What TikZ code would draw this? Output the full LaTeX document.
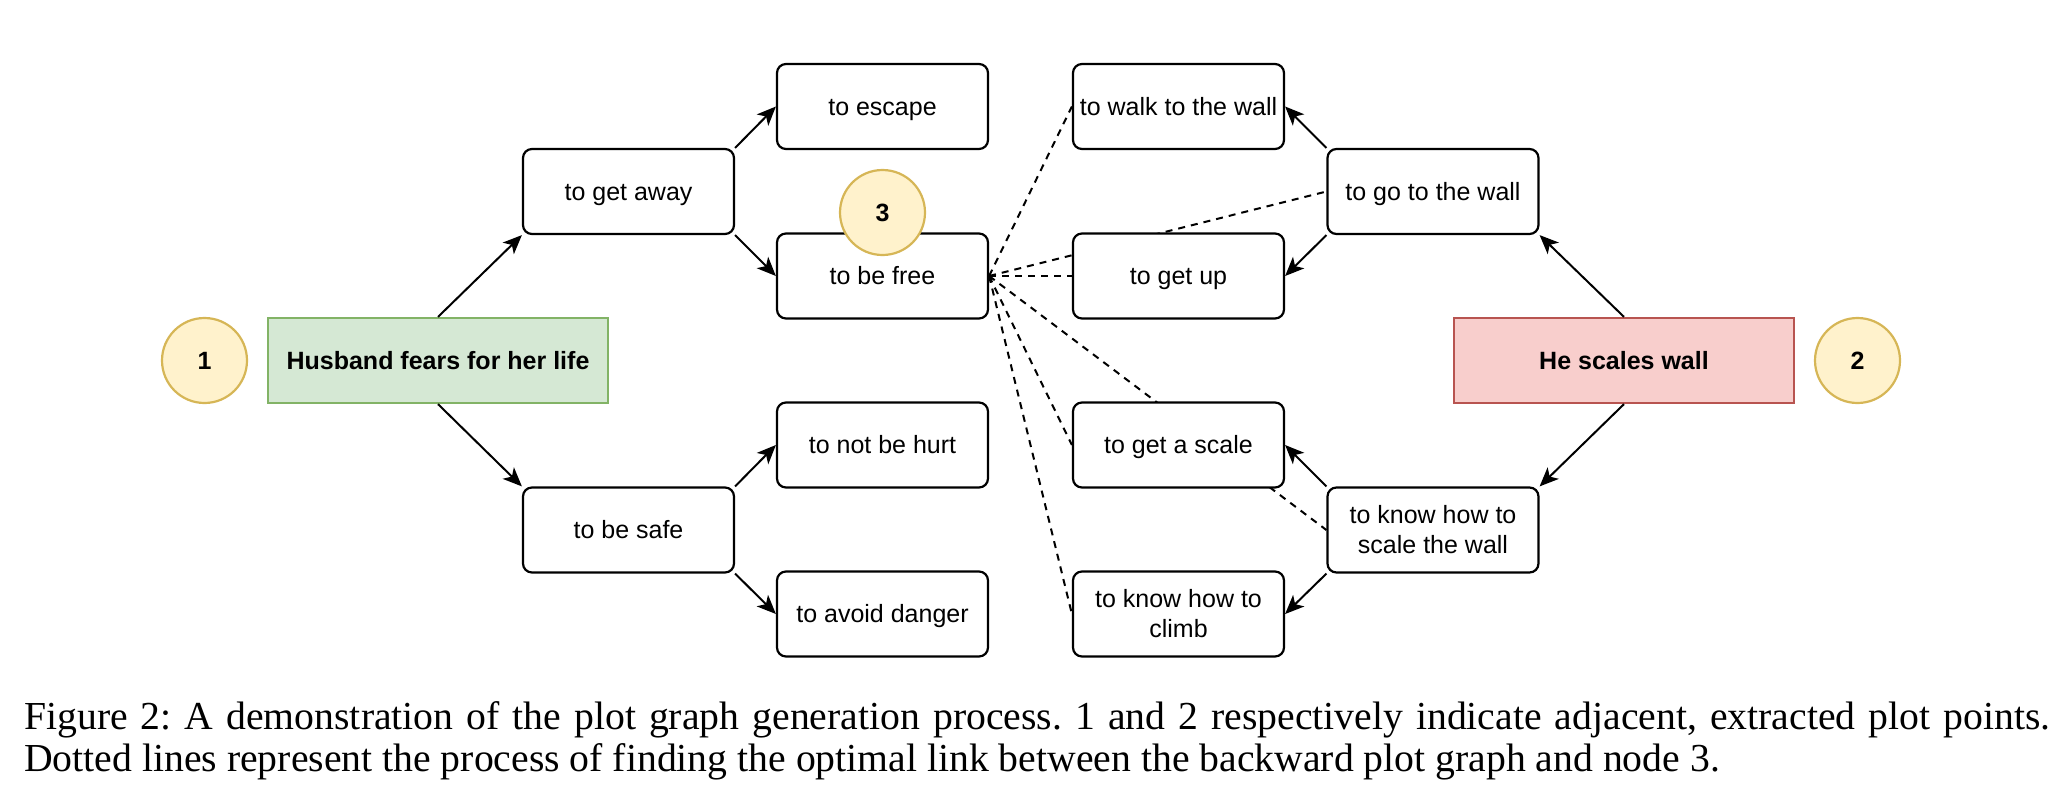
\documentclass[tikz,border=0pt]{standalone}
\usepackage{fontspec}
\setmainfont{Liberation Serif}
\setsansfont{Liberation Sans}
\usetikzlibrary{arrows.meta,backgrounds}
\definecolor{gfill}{HTML}{D5E8D4}
\definecolor{gdraw}{HTML}{82B366}
\definecolor{rfill}{HTML}{F8CECC}
\definecolor{rdraw}{HTML}{B85450}
\definecolor{yfill}{HTML}{FFF2CC}
\definecolor{ydraw}{HTML}{D6B656}
\frenchspacing
\begin{document}
\begin{tikzpicture}[x=1pt,y=-1pt,
  box/.style={draw,line width=2.2pt,rounded corners=9pt,fill=white,minimum width=211pt,minimum height=85pt,inner sep=0pt,align=center,font=\sffamily\fontsize{25}{30}\selectfont},
  oneline/.style={text height=22.6pt,text depth=5.3pt},
  event/.style={draw,line width=2.2pt,minimum width=340pt,minimum height=85pt,inner sep=0pt,oneline,font=\sffamily\bfseries\fontsize{25}{30}\selectfont},
  num/.style={circle,draw=ydraw,fill=yfill,line width=2.2pt,minimum size=85pt,inner sep=0pt,oneline,font=\sffamily\bfseries\fontsize{25}{30}\selectfont},
  arr/.style={-{Stealth[length=19pt,width=16pt,inset=5pt]},line width=2pt},
  dsh/.style={line width=2pt,dash pattern=on 7pt off 6pt},
  captext/.style={anchor=base west,inner sep=0pt,font=\fontsize{39.7}{42}\selectfont}
]
\useasboundingbox (0,0) rectangle (2067,806);
% left side
\node[num] (one) at (204.5,360.5) {1};
\node[event,fill=gfill,draw=gdraw] (husband) at (438,360.5) {Husband fears for her life};
\node[box,oneline] (getaway) at (628.5,191.5) {to get away};
\node[box,oneline] (safe) at (628.5,530) {to be safe};
\node[box,oneline] (escape) at (882.5,106.5) {to escape};
\node[box,oneline] (free) at (882.5,276) {to be free};
\node[box,oneline] (hurt) at (882.5,445) {to not be hurt};
\node[box,oneline] (danger) at (882.5,614) {to avoid danger};
\node[num] (three) at (882.5,212.5) {3};
% right side
\node[num] (two) at (1857.5,360.5) {2};
\node[event,fill=rfill,draw=rdraw] (wall) at (1624,360.5) {He scales wall};
\node[box,oneline] (goto) at (1433,191.5) {to go to the wall};
\node[box] (knowscale) at (1433,530) {to know how to\\scale the wall};
\node[box,oneline] (walk) at (1178.5,106.5) {to walk to the wall};
\node[box,oneline] (getup) at (1178.5,276) {to get up};
\node[box,oneline] (getscale) at (1178.5,445) {to get a scale};
\node[box] (climb) at (1178.5,614) {to know how to\\climb};
% dashed search links
\begin{pgfonlayer}{background}
\draw[dsh] (free.east) -- (walk.west);
\draw[dsh] (free.east) -- (goto.west);
\draw[dsh] (free.east) -- (getup.west);
\draw[dsh] (free.east) -- (getscale.west);
\draw[dsh] (free.east) -- (knowscale.west);
\draw[dsh] (free.east) -- (climb.west);
\end{pgfonlayer}
% solid arrows
\draw[arr] (husband.north) -- (getaway.south west);
\draw[arr] (husband.south) -- (safe.north west);
\draw[arr] (getaway.north east) -- (escape.west);
\draw[arr] (getaway.south east) -- (free.west);
\draw[arr] (safe.north east) -- (hurt.west);
\draw[arr] (safe.south east) -- (danger.west);
\draw[arr] (wall.north) -- (goto.south east);
\draw[arr] (wall.south) -- (knowscale.north east);
\draw[arr] (goto.north west) -- (walk.east);
\draw[arr] (goto.south west) -- (getup.east);
\draw[arr] (knowscale.north west) -- (getscale.east);
\draw[arr] (knowscale.south west) -- (climb.east);
% caption
\node[captext] (cap1) at (24,729) {\makebox[2026pt][s]{Figure 2: A demonstration of the plot graph generation process. 1 and 2 respectively indicate adjacent, extracted plot points.}};
\node[captext] (cap2) at (24,771) {Dotted lines represent the process of finding the optimal link between the backward plot graph and node 3.};
\end{tikzpicture}
\end{document}
